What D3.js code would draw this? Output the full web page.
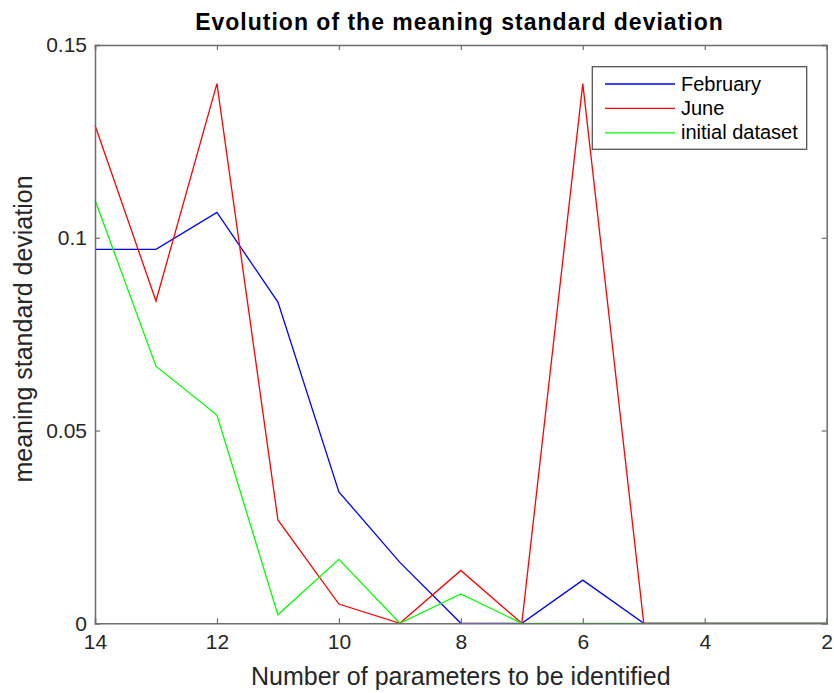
<!DOCTYPE html>
<html><head><meta charset="utf-8">
<script src="https://cdn.jsdelivr.net/npm/d3@7"></script>
<style>body{margin:0;background:#fff}svg{display:block;font-family:"Liberation Sans",Arial,sans-serif}</style>
</head><body><svg id="c" width="834" height="693"></svg>
<script>
const params = [14,13,12,11,10,9,8,7,6,5,4,3,2];
const february = [0.097,0.097,0.1066,0.0833,0.0341,0.0158,0,0,0.0112,0,0,0,0];
const june = [0.1292,0.0836,0.140,0.0268,0.005,0,0.0137,0,0.140,0,0,0,0];
const initialDataset = [0.1098,0.0667,0.054,0.0022,0.0166,0,0.0076,0,0,0,0,0,0];
const seriesNames = ["February","June","initial dataset"];
const seriesColors = ["#0000ff","#ff0000","#00ff00"];
const xTicks = [14,12,10,8,6,4,2];
const yTicks = [0,0.05,0.1,0.15];

const svg = d3.select("#c");
const L=95,R=826.7,T=45,B=623.3;
const x = d3.scaleLinear().domain([14,2]).range([L,R]);
const y = d3.scaleLinear().domain([0,0.15]).range([B,T]);
const axisColor="#6e6e6e", textColor="#262626";

const g = svg.append("g");
const allSeries=[february,june,initialDataset];
const line = d3.line().x((d,i)=>x(params[i])).y(d=>y(d));
allSeries.forEach((s,k)=>{
  g.append("path").datum(s).attr("d",line).attr("fill","none")
   .attr("stroke",seriesColors[k]).attr("stroke-width",1.3);
});

function fmt(v){return v===0?"0":String(+v.toFixed(2));}
const axB = d3.axisBottom(x).tickValues(xTicks).tickSize(-5).tickPadding(11).tickFormat(d3.format("d"));
const axT = d3.axisTop(x).tickValues(xTicks).tickSize(-5).tickFormat("");
const axL = d3.axisLeft(y).tickValues(yTicks).tickSize(-5).tickPadding(8).tickFormat(fmt);
const axR = d3.axisRight(y).tickValues(yTicks).tickSize(-5).tickFormat("");
[[axB,`translate(0,${B})`],[axT,`translate(0,${T})`],[axL,`translate(${L},0)`],[axR,`translate(${R},0)`]].forEach(([a,t])=>{
  const ga=svg.append("g").attr("transform",t).call(a);
  ga.select(".domain").attr("stroke",axisColor).attr("stroke-width",1.5);
  ga.selectAll(".tick line").attr("stroke",axisColor).attr("stroke-width",1.2);
  ga.selectAll("text").attr("fill",textColor).style("font-size","21px").style("font-family","'Liberation Sans',Arial,sans-serif");
});

svg.append("text").attr("x",459.5).attr("y",30).attr("text-anchor","middle")
  .style("font-weight","bold").style("font-size","23px").style("letter-spacing","1px").attr("fill","#000")
  .text("Evolution of the meaning standard deviation");
svg.append("text").attr("x",(L+R)/2).attr("y",685).attr("text-anchor","middle")
  .style("font-size","25px").attr("fill",textColor).text("Number of parameters to be identified");
svg.append("text").attr("transform",`translate(32,329) rotate(-90)`).attr("text-anchor","middle")
  .style("font-size","25px").attr("fill",textColor).text("meaning standard deviation");

const lg = svg.append("g");
lg.append("rect").attr("x",592.3).attr("y",66.7).attr("width",214.4).attr("height",82.6)
  .attr("fill","#fff").attr("stroke","#555").attr("stroke-width",1.3);
seriesNames.forEach((n,k)=>{
  const yy=84+k*24.4;
  lg.append("line").attr("x1",605).attr("x2",675).attr("y1",yy).attr("y2",yy).attr("stroke",seriesColors[k]).attr("stroke-width",1.3);
  lg.append("text").attr("x",681).attr("y",yy+6.5).style("font-size","20px").attr("fill","#000").text(n);
});
</script></body></html>
